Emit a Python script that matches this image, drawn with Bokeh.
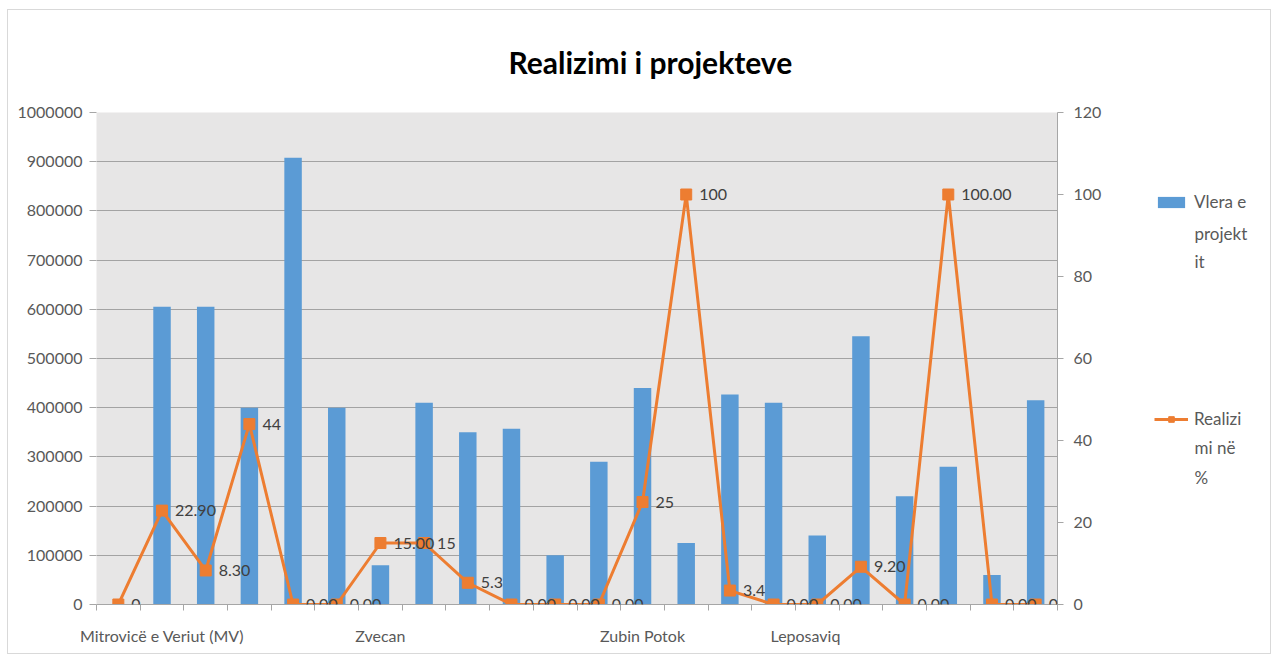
from bokeh.plotting import figure
from bokeh.layouts import row
from bokeh.models import (Range1d, LinearAxis, FixedTicker, ColumnDataSource, Legend,
                          LegendItem, LabelSet, Label, NumeralTickFormatter)
from bokeh.core.properties import value
from bokeh.embed import file_html
from bokeh.resources import INLINE

# ---- data ----
index = list(range(22))
project_value = [0, 605000, 605000, 400000, 908000, 400000, 80000, 410000, 350000, 357000,
                 100000, 290000, 440000, 125000, 427000, 410000, 140000, 545000, 220000,
                 280000, 60000, 415000]
realization = [0, 22.90, 8.30, 44, 0, 0, 15.00, 15, 5.3, 0, 0, 0, 25, 100, 3.4, 0, 0,
               9.20, 0, 100.00, 0, 0]
realization_labels = ["0", "22.90", "8.30", "44", "0.00", "0.00", "15.00", "15", "5.3",
                      "0.00", "0.00", "0.00", "25", "100", "3.4", "0.00", "0.00", "9.20",
                      "0.00", "100.00", "0.00", "0.00"]
municipality_ticks = [1, 6, 12, 15.73]
municipality_names = ["Mitrovicë e Veriut (MV)", "Zvecan", "Zubin Potok", "Leposaviq"]
left_ticks = [0, 100000, 200000, 300000, 400000, 500000, 600000, 700000, 800000, 900000, 1000000]
right_ticks = [0, 20, 40, 60, 80, 100, 120]
series_names = ["Vlera e", "Realizi"]
series_name_rest = [["projekt", "it"], ["mi në", "%"]]

FONT = "Lato"
AX = "#a6a6a6"
TXT = "#595959"
BLUE = "#5b9bd5"
ORANGE = "#ed7d31"

src = ColumnDataSource(dict(x=index, v=project_value, r=realization, lab=realization_labels))

p = figure(width=1099, height=643, output_backend="svg", toolbar_location=None,
           x_range=Range1d(-0.5, 21.5), y_range=Range1d(0, 1000000),
           min_border_left=88, min_border_right=50, min_border_top=102, min_border_bottom=49)
p.extra_y_ranges = {"pct": Range1d(0, 120)}
p.background_fill_color = "#e7e6e6"
p.border_fill_color = "white"
p.outline_line_color = None

# title
p.title.text = "Realizimi i projekteve"
p.title.text_font = FONT
p.title.text_font_style = "bold"
p.title.text_font_size = "30px"
p.title.text_color = "#000000"
p.title.align = "left"
p.title.offset = 412
p.title.vertical_align = "top"
p.title.standoff = 62

# grid
p.xgrid.visible = False
p.ygrid.ticker = FixedTicker(ticks=left_ticks)
p.ygrid.grid_line_color = "#a3a3a3"
p.ygrid.grid_line_width = 1

# left axis
ya = p.yaxis[0]
ya.ticker = FixedTicker(ticks=left_ticks)
ya.formatter = NumeralTickFormatter(format="0")
ya.axis_line_color = None
ya.major_tick_line_color = AX
ya.major_tick_out = 7
ya.major_tick_in = 0
ya.minor_tick_line_color = None
ya.major_label_standoff = 7
ya.major_label_text_font = FONT
ya.major_label_text_font_size = "16px"
ya.major_label_text_color = TXT

# bottom axis
xa = p.xaxis[0]
xa.ticker = FixedTicker(ticks=municipality_ticks, minor_ticks=[i - 0.5 for i in range(23)])
xa.major_label_overrides = {t: n for t, n in zip(municipality_ticks, municipality_names)}
xa.axis_line_color = AX
xa.major_tick_line_color = None
xa.major_tick_out = 0
xa.major_tick_in = 0
xa.minor_tick_line_color = AX
xa.minor_tick_out = 6
xa.minor_tick_in = 0
xa.major_label_standoff = 15
xa.major_label_text_font = FONT
xa.major_label_text_font_size = "16px"
xa.major_label_text_color = TXT

# right axis
ra = LinearAxis(y_range_name="pct", ticker=FixedTicker(ticks=right_ticks))
ra.axis_line_color = AX
ra.major_tick_line_color = AX
ra.major_tick_out = 6
ra.major_tick_in = 0
ra.minor_tick_line_color = None
ra.major_label_standoff = 10
ra.major_label_text_font = FONT
ra.major_label_text_font_size = "16px"
ra.major_label_text_color = TXT
p.add_layout(ra, "right")

# bars
p.vbar(x="x", top="v", width=0.4, source=src, fill_color=BLUE, line_color=None)

# line + markers
p.line(x="x", y="r", source=src, y_range_name="pct", line_color=ORANGE, line_width=3)
p.scatter(x="x", y="r", source=src, y_range_name="pct", marker="square", size=11,
          fill_color=ORANGE, line_color=ORANGE)

labels = LabelSet(x="x", y="r", text="lab", source=src, y_range_name="pct",
                  x_offset=13, y_offset=0, text_align="left", text_baseline="middle",
                  text_font=value(FONT), text_font_size="16px", text_color="#404040")
p.add_layout(labels)

# ---- legend panel (separate canvas on the right; frame aligned with main frame) ----
lg = figure(width=163, height=643, output_backend="svg", toolbar_location=None,
            x_range=Range1d(0, 163), y_range=Range1d(0, 492),
            x_axis_type=None, y_axis_type=None, min_border=0)
lg.grid.visible = False
lg.outline_line_color = None
lg.background_fill_color = "white"
lg.border_fill_color = "white"

# legend key renderers share the chart's data but are not drawn in this panel
k_bar = lg.vbar(x="x", top="v", width=0.4, source=src, fill_color=BLUE, line_color=None,
                visible=False)
k_line = lg.line(x="x", y="r", source=src, line_color=ORANGE, line_width=3, visible=False)
k_mark = lg.scatter(x="x", y="r", source=src, marker="square", size=10,
                    fill_color=ORANGE, line_color=ORANGE, visible=False)

legend = Legend(items=[LegendItem(label=series_names[0], renderers=[k_bar]),
                       LegendItem(label=series_names[1], renderers=[k_line, k_mark])],
                location=(47, 175), orientation="vertical",
                spacing=196, padding=0, margin=0,
                glyph_width=34, glyph_height=14, label_standoff=6, label_height=20,
                label_text_font=FONT, label_text_font_size="17px",
                label_text_color=TXT, border_line_color=None, background_fill_alpha=0,
                inactive_fill_alpha=0)
lg.add_layout(legend)

rest_y = [[371, 343], [157, 127]]
for names, ys in zip(series_name_rest, rest_y):
    for n, yy in zip(names, ys):
        lg.add_layout(Label(x=87, y=yy, text=n, text_align="left", text_baseline="middle",
                            text_font=FONT, text_font_size="17px", text_color=TXT))

layout = row(p, lg, spacing=0)
layout.styles = {"border": "1px solid #d9d9d9", "margin": "9px 0px 0px 7px"}

open("out.html", "w").write(file_html(layout, INLINE))
